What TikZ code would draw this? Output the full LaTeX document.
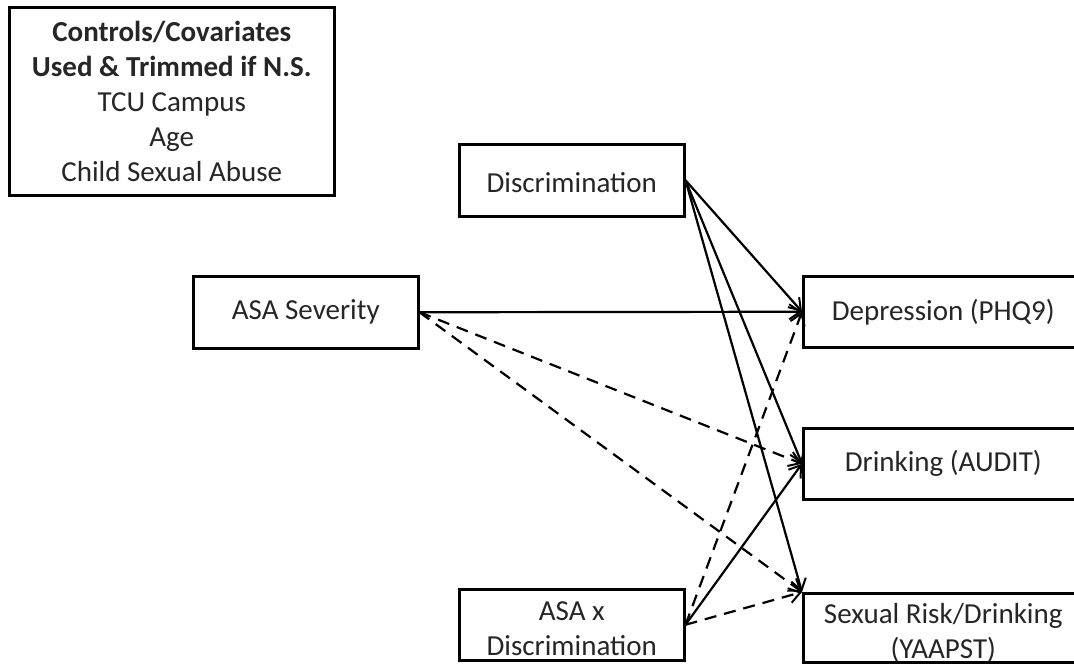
\documentclass[tikz,border=0pt]{standalone}
\usepackage{fontspec}
\setmainfont{Carlito}
\usetikzlibrary{arrows.meta}
\begin{document}
\begin{tikzpicture}[x=1pt,y=-1pt,
  box/.style={draw,line width=2.5pt,rectangle,align=center,inner sep=0pt,
    font=\fontsize{29}{35}\selectfont,text=black!85},
  outbox/.style={box,minimum width=280pt,minimum height=71pt,anchor=north west},
  path/.style={line width=2.2pt,-{Straight Barb[length=11pt,width=15pt,line width=2pt]}},
  dpath/.style={path,dash pattern=on 12pt off 8pt}]
\clip (0,0) rectangle (1074,664);
\fill[white] (0,0) rectangle (1074,664);
\node[box,minimum width=325pt,minimum height=188pt,anchor=north west] (ctrl) at (8,6)
  {\textbf{Controls/Covariates}\\\textbf{Used \& Trimmed if N.S.}\\TCU Campus\\Age\\Child Sexual Abuse};
\node[box,minimum width=225pt,minimum height=72pt,anchor=north west] (disc) at (458,143) {\rule{0pt}{24pt}Discrimination};
\node[box,minimum width=225pt,minimum height=72pt,anchor=north west] (sev) at (192,275) {ASA Severity};
\node[box,minimum width=225pt,minimum height=71pt,anchor=north west] (int) at (458,588) {\rule{0pt}{26pt}ASA x\\Discrimination};
\node[outbox] (dep) at (802,275) {Depression (PHQ9)};
\node[outbox] (drk) at (802,427) {Drinking (AUDIT)};
\node[outbox,minimum height=69pt] (sex) at (802,592) {\rule{0pt}{30pt}Sexual Risk/Drinking\\(YAAPST)};
\draw[path] (sev.east) -- (dep.west);
\draw[dpath] (sev.east) -- (drk.west);
\draw[dpath] (sev.east) -- (sex.north west);
\draw[path] (disc.east) -- (dep.west);
\draw[path] (disc.east) -- (drk.west);
\draw[path] (disc.east) -- (sex.north west);
\draw[dpath] (int.east) -- (dep.west);
\draw[path] (int.east) -- (drk.west);
\draw[dpath] (int.east) -- (sex.north west);
\end{tikzpicture}
\end{document}
